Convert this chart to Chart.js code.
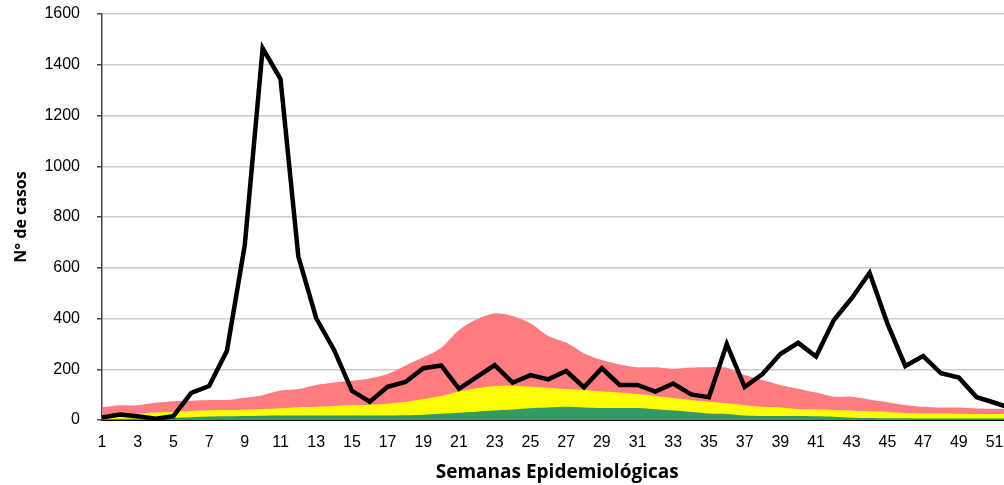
<!DOCTYPE html>
<html>
<head>
<meta charset="utf-8">
<script src="https://cdn.jsdelivr.net/npm/chart.js@4.4.0/dist/chart.umd.min.js"></script>
<style>
html,body{margin:0;padding:0;background:#fff;overflow:hidden;width:1004px;height:485px;}
#wrap{position:absolute;left:0;top:0;width:1020px;height:485px;}
</style>
</head>
<body>
<div id="wrap"><canvas id="c" width="1020" height="485"></canvas></div>
<script>
const weeks = [1,2,3,4,5,6,7,8,9,10,11,12,13,14,15,16,17,18,19,20,21,22,23,24,25,26,27,28,29,30,31,32,33,34,35,36,37,38,39,40,41,42,43,44,45,46,47,48,49,50,51,52];
const casos = [10,22,15,5,15,107,134,273,690,1465,1344,644,401,276,115,72,131,150,204,215,123,170,216,147,177,160,193,129,204,138,138,112,144,101,90,299,130,181,260,304,250,394,480,580,380,213,252,184,167,90,68,45];
const alarma = [50,58,58,68,74,76,79,79,88,98,116,122,138,148,155,164,181,215,247,285,355,397,420,410,381,331,305,263,236,219,208,208,202,207,208,206,177,158,138,123,108,92,92,81,70,59,52,49,49,45,44,43];
const seguridad = [18,22,26,30,33,35,38,39,40,43,46,50,52,55,58,60,64,72,83,95,112,125,134,135,131,127,122,118,112,108,102,95,87,79,72,66,58,52,49,43,42,39,37,34,32,28,26,26,25,24,24,23];
const exito = [3,5,6,8,9,11,14,15,16,17,18,18,18,18,18,18,18,19,21,25,29,33,37,41,46,49,52,49,47,47,47,42,37,32,26,24,18,16,16,16,15,13,9,8,7,7,6,6,6,6,6,6];
const yTicks = [0,200,400,600,800,1000,1200,1400,1600];

new Chart(document.getElementById('c'), {
  type: 'line',
  data: {
    labels: weeks,
    datasets: [
      {label:'Casos', data: casos, borderColor:'#000', borderWidth:4.5, pointRadius:0, fill:false, tension:0, borderJoinStyle:'miter'},
      {label:'Éxito', data: exito, borderWidth:0, pointRadius:0, backgroundColor:'#339966', fill:'origin', tension:0.3},
      {label:'Seguridad', data: seguridad, borderWidth:0, pointRadius:0, backgroundColor:'#FFFF00', fill:'origin', tension:0.3},
      {label:'Alarma', data: alarma, borderWidth:0, pointRadius:0, backgroundColor:'#FF7C80', fill:'origin', tension:0.3}
    ]
  },
  options: {
    responsive:false, animation:false,
    layout:{padding:{left:0, right:7.6, top:14, bottom:0}},
    plugins:{legend:{display:false}, tooltip:{enabled:false}},
    scales:{
      x:{
        grid:{display:false, drawTicks:false},
        border:{display:true, color:'#000', width:2},
        ticks:{autoSkip:false, maxRotation:0, padding:13, color:'#000', font:{family:'Liberation Sans, Arial', size:16},
          callback:function(v,i){ const w = weeks[i]; return (w % 2 === 1) ? String(w) : ''; }},
        title:{display:true, text:'Semanas Epidemiológicas', color:'#000', font:{family:'Open Sans', size:19, weight:'bold'}, padding:{top:0,bottom:1}},
        afterFit:function(s){ s.height = 65; s.paddingLeft = 0; s.paddingRight = 0; }
      },
      y:{
        min:0, max:1600,
        afterBuildTicks:function(s){ s.ticks = yTicks.map(v=>({value:v})); },
        grid:{color:'#cccccc', lineWidth:1.5, tickLength:5, tickColor:'#444'},
        border:{display:true, color:'#444', width:1.5},
        ticks:{padding:17, color:'#000', font:{family:'Liberation Sans, Arial', size:16}, callback:function(v){ return String(v); }},
        title:{display:true, text:'N° de casos', color:'#000', font:{family:'Open Sans', size:16, weight:'bold'}, padding:{top:12,bottom:0}},
        afterFit:function(s){ s.width = 102; s.paddingTop = 0; s.paddingBottom = 0; }
      }
    }
  }
});
</script>
</body>
</html>
